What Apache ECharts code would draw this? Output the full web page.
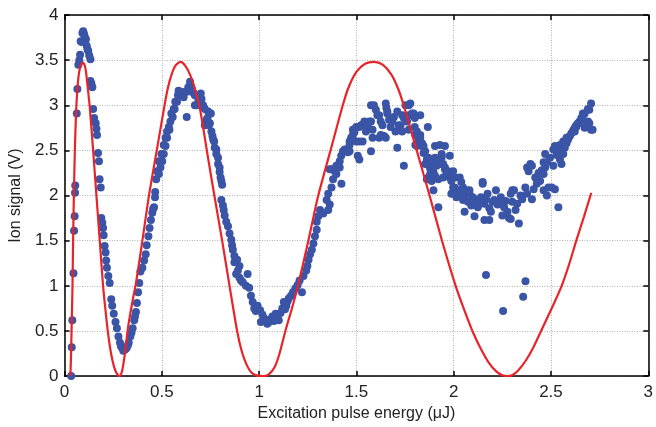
<!DOCTYPE html>
<html>
<head>
<meta charset="utf-8">
<script src="https://cdn.jsdelivr.net/npm/echarts@6/dist/echarts.min.js"></script>
<style>
  html, body { margin: 0; padding: 0; background: #fff; }
  #chart { width: 656px; height: 427px; }
</style>
</head>
<body>
<div id="chart"></div>
<script>
// measured ion signal (V) against pulse energy (uJ)
var measured = [
  [0.034,0.00],[0.037,0.32],[0.040,0.62],[0.046,1.14],[0.049,1.61],[0.052,1.77],[0.054,2.03],[0.055,2.11],
  [0.063,2.91],[0.066,3.18],[0.071,3.45],[0.076,3.50],[0.080,3.56],[0.083,3.71],[0.088,3.70],[0.092,3.80],
  [0.096,3.82],[0.100,3.79],[0.104,3.76],[0.110,3.73],[0.114,3.66],[0.118,3.62],[0.122,3.60],[0.127,3.55],
  [0.133,3.51],[0.133,3.27],[0.138,3.24],[0.143,3.20],[0.147,2.96],[0.152,2.86],[0.160,2.80],[0.164,2.74],
  [0.167,2.67],[0.172,2.47],[0.177,2.38],[0.180,2.18],[0.186,2.09],[0.189,1.75],[0.194,1.70],[0.198,1.64],
  [0.201,1.56],[0.206,1.44],[0.211,1.37],[0.214,1.28],[0.218,1.20],[0.225,1.11],[0.232,1.03],[0.240,0.85],
  [0.245,0.78],[0.253,0.69],[0.262,0.60],[0.269,0.53],[0.277,0.44],[0.285,0.37],[0.290,0.33],[0.296,0.31],
  [0.302,0.28],[0.307,0.29],[0.313,0.30],[0.319,0.31],[0.325,0.34],[0.330,0.37],[0.338,0.44],[0.344,0.48],
  [0.350,0.53],[0.358,0.62],[0.362,0.66],[0.367,0.71],[0.372,0.81],[0.378,0.93],[0.384,1.03],[0.390,1.16],
  [0.400,1.20],[0.409,1.28],[0.417,1.35],[0.422,1.45],[0.431,1.55],[0.437,1.64],[0.444,1.73],[0.451,1.81],
  [0.455,1.85],[0.460,1.87],[0.465,1.98],[0.466,2.04],[0.471,2.18],[0.476,2.27],[0.485,2.24],[0.485,2.38],
  [0.493,2.31],[0.498,2.46],[0.502,2.38],[0.510,2.46],[0.510,2.56],[0.519,2.55],[0.519,2.64],[0.527,2.64],
  [0.527,2.71],[0.536,2.76],[0.539,2.73],[0.544,2.82],[0.549,2.91],[0.556,2.87],[0.561,2.96],[0.566,2.96],
  [0.569,3.04],[0.578,3.04],[0.583,3.11],[0.586,3.16],[0.595,3.15],[0.604,3.12],[0.612,3.09],[0.620,3.15],
  [0.628,3.15],[0.628,2.87],[0.636,3.20],[0.645,3.26],[0.648,3.22],[0.654,3.18],[0.662,3.14],[0.670,3.11],
  [0.670,3.00],[0.679,3.00],[0.688,3.06],[0.696,3.11],[0.700,3.13],[0.704,3.07],[0.712,3.00],[0.721,2.96],
  [0.721,2.78],[0.730,2.84],[0.735,2.86],[0.738,2.93],[0.742,2.78],[0.747,2.80],[0.752,2.91],[0.755,2.71],
  [0.760,2.66],[0.764,2.62],[0.769,2.60],[0.772,2.53],[0.780,2.51],[0.780,2.46],[0.789,2.42],[0.789,2.35],
  [0.797,2.31],[0.797,2.26],[0.802,2.20],[0.806,2.16],[0.810,2.12],[0.806,1.95],[0.814,1.89],[0.818,1.84],
  [0.823,1.78],[0.831,1.71],[0.840,1.66],[0.848,1.58],[0.857,1.51],[0.861,1.45],[0.865,1.40],[0.873,1.33],
  [0.873,1.26],[0.887,1.29],[0.899,1.22],[0.882,1.13],[0.891,1.17],[0.899,1.09],[0.907,1.06],[0.916,1.04],
  [0.941,1.13],[0.932,1.00],[0.949,0.98],[0.958,0.89],[0.967,0.82],[0.975,0.75],[0.983,0.72],[0.992,0.78],
  [1.005,0.73],[1.017,0.68],[1.009,0.60],[1.025,0.64],[1.034,0.62],[1.042,0.58],[1.051,0.60],[1.060,0.63],
  [1.068,0.66],[1.076,0.61],[1.085,0.69],[1.093,0.66],[1.101,0.62],[1.110,0.70],[1.119,0.75],[1.127,0.82],
  [1.133,0.74],[1.140,0.78],[1.146,0.83],[1.152,0.86],[1.164,0.89],[1.174,0.93],[1.186,0.97],[1.198,1.01],
  [1.208,1.06],[1.220,0.93],[1.228,1.11],[1.242,1.17],[1.248,1.22],[1.254,1.29],[1.262,1.35],[1.271,1.40],
  [1.279,1.47],[1.287,1.55],[1.296,1.62],[1.296,1.71],[1.304,1.77],[1.313,1.84],[1.330,1.80],[1.347,1.95],
  [1.355,1.84],[1.363,1.90],[1.355,2.02],[1.372,2.09],[1.380,2.18],[1.363,2.29],[1.372,2.29],[1.389,2.27],
  [1.397,2.24],[1.397,2.33],[1.414,2.31],[1.414,2.38],[1.423,2.13],[1.422,2.44],[1.431,2.49],[1.440,2.51],
  [1.448,2.51],[1.456,2.48],[1.465,2.49],[1.465,2.56],[1.465,2.60],[1.473,2.64],[1.482,2.67],[1.482,2.73],
  [1.490,2.70],[1.499,2.76],[1.499,2.60],[1.507,2.44],[1.515,2.40],[1.515,2.60],[1.515,2.76],[1.524,2.78],
  [1.532,2.60],[1.541,2.80],[1.541,2.82],[1.549,2.71],[1.558,2.76],[1.566,2.82],[1.575,2.49],[1.575,2.82],
  [1.575,3.00],[1.583,2.64],[1.583,2.73],[1.590,3.00],[1.600,2.95],[1.608,2.89],[1.617,2.64],[1.617,2.89],
  [1.625,2.82],[1.625,2.67],[1.634,2.78],[1.642,2.66],[1.651,2.64],[1.651,3.02],[1.654,2.97],[1.659,2.91],
  [1.659,2.93],[1.668,2.84],[1.676,2.76],[1.685,2.82],[1.693,2.87],[1.701,2.71],[1.710,2.93],[1.710,2.53],
  [1.718,2.78],[1.727,2.78],[1.735,2.89],[1.735,2.71],[1.744,2.33],[1.744,2.86],[1.752,3.00],[1.760,2.82],
  [1.769,3.00],[1.769,2.89],[1.769,2.73],[1.777,3.02],[1.786,2.91],[1.794,2.91],[1.800,2.86],[1.800,2.76],
  [1.803,2.67],[1.803,2.56],[1.811,2.71],[1.811,2.55],[1.820,2.62],[1.828,2.89],[1.828,2.67],[1.828,2.64],
  [1.837,2.58],[1.837,2.55],[1.845,2.55],[1.845,2.47],[1.853,2.49],[1.853,2.35],[1.862,2.40],[1.862,2.18],
  [1.867,2.76],[1.870,2.42],[1.870,2.35],[1.870,2.20],[1.879,2.24],[1.879,2.30],[1.887,2.38],[1.887,2.16],
  [1.896,2.06],[1.896,2.26],[1.904,2.55],[1.904,2.42],[1.904,2.22],[1.912,2.33],[1.921,2.35],[1.921,2.18],
  [1.921,1.87],[1.929,2.35],[1.929,2.56],[1.938,2.44],[1.938,2.42],[1.938,2.46],[1.946,2.20],[1.946,2.35],
  [1.955,2.55],[1.955,2.31],[1.955,2.29],[1.963,2.26],[1.972,2.27],[1.972,2.26],[1.980,2.44],[1.980,2.20],
  [1.988,2.16],[1.988,2.02],[1.988,2.18],[1.997,2.27],[1.997,2.09],[2.005,2.20],[2.005,2.09],[2.014,1.98],
  [2.022,2.06],[2.031,2.20],[2.031,2.02],[2.039,2.15],[2.048,2.09],[2.048,1.95],[2.056,1.82],[2.056,2.00],
  [2.064,2.06],[2.073,1.93],[2.081,2.02],[2.081,2.06],[2.090,1.89],[2.098,1.98],[2.107,1.96],[2.107,1.77],
  [2.115,1.92],[2.124,1.87],[2.132,1.94],[2.140,1.98],[2.149,2.13],[2.149,2.15],[2.158,1.91],[2.158,1.73],
  [2.166,1.12],[2.166,1.96],[2.174,2.02],[2.183,1.86],[2.183,1.73],[2.191,1.82],[2.200,1.93],[2.208,1.95],
  [2.217,2.06],[2.225,1.90],[2.234,1.91],[2.242,1.98],[2.250,1.78],[2.254,0.72],[2.259,1.87],[2.267,1.94],
  [2.276,1.82],[2.284,1.75],[2.293,2.02],[2.293,1.74],[2.301,1.93],[2.301,2.06],[2.310,2.06],[2.318,1.84],
  [2.326,1.91],[2.335,1.69],[2.343,2.00],[2.352,1.96],[2.357,0.88],[2.368,2.09],[2.369,1.05],[2.377,2.02],
  [2.377,2.31],[2.385,2.27],[2.394,2.35],[2.402,1.96],[2.402,2.33],[2.411,2.07],[2.419,2.20],[2.427,2.13],
  [2.427,2.20],[2.436,2.25],[2.444,2.16],[2.453,2.28],[2.462,2.24],[2.462,2.06],[2.462,2.37],[2.470,2.31],
  [2.470,2.46],[2.479,2.00],[2.479,2.37],[2.487,2.09],[2.495,2.42],[2.504,2.09],[2.512,2.33],[2.512,2.51],
  [2.520,2.07],[2.520,2.53],[2.520,2.55],[2.529,2.45],[2.538,1.87],[2.538,2.49],[2.546,2.40],[2.546,2.56],
  [2.554,2.35],[2.563,2.46],[2.563,2.60],[2.571,2.53],[2.580,2.58],[2.580,2.64],[2.588,2.62],[2.597,2.66],
  [2.605,2.69],[2.614,2.72],[2.622,2.75],[2.622,2.71],[2.630,2.78],[2.630,2.76],[2.639,2.80],[2.644,2.80],
  [2.647,2.82],[2.656,2.86],[2.656,2.84],[2.664,2.84],[2.664,2.91],[2.673,2.91],[2.673,2.75],[2.681,2.76],
  [2.690,2.96],[2.690,2.82],[2.697,2.95],[2.697,2.80],[2.706,3.02],[2.706,2.73],[2.714,2.73]
];

// red curve
var fitted = [
  [0.030,0.00],[0.033,0.20],[0.036,0.50],[0.039,0.80],[0.041,1.00],[0.044,1.50],[0.048,2.00],[0.053,2.50],
  [0.059,2.90],[0.065,3.15],[0.072,3.32],[0.080,3.42],[0.088,3.46],[0.096,3.47],[0.104,3.44],[0.111,3.36],
  [0.118,3.22],[0.124,3.10],[0.130,2.97],[0.147,2.50],[0.164,2.00],[0.181,1.50],[0.198,1.00],[0.212,0.70],
  [0.225,0.45],[0.240,0.24],[0.255,0.10],[0.268,0.03],[0.282,0.00],
  [0.295,0.05],[0.305,0.17],[0.315,0.33],[0.325,0.52],[0.345,0.78],[0.367,1.03],[0.400,1.50],[0.434,2.00],
  [0.474,2.50],[0.510,2.95],[0.530,3.18],[0.550,3.34],[0.570,3.44],[0.595,3.48],[0.620,3.44],[0.645,3.34],
  [0.670,3.18],[0.695,2.97],[0.715,2.72],[0.735,2.45],[0.770,2.00],[0.810,1.50],[0.848,1.00],[0.887,0.50],
  [0.910,0.28],[0.935,0.13],[0.960,0.04],[0.990,0.005],[1.020,0.00],
  [1.050,0.02],[1.080,0.10],[1.105,0.25],[1.135,0.50],[1.170,0.76],[1.200,1.00],[1.253,1.50],[1.304,2.00],
  [1.367,2.50],[1.430,3.00],[1.460,3.20],[1.500,3.37],[1.545,3.46],[1.590,3.48],[1.635,3.45],[1.680,3.34],
  [1.715,3.18],[1.743,3.00],[1.810,2.50],[1.876,2.00],[1.940,1.50],[2.010,1.00],[2.060,0.70],[2.100,0.48],
  [2.140,0.30],[2.180,0.15],[2.220,0.05],[2.250,0.01],[2.276,0.00],
  [2.300,0.01],[2.330,0.06],[2.370,0.17],[2.410,0.32],[2.460,0.55],[2.510,0.78],[2.555,1.00],[2.595,1.25],
  [2.630,1.50],[2.670,1.77],[2.707,2.03]
];

var xTicks = [0, 0.5, 1, 1.5, 2, 2.5, 3];
var yTicks = [0, 0.5, 1, 1.5, 2, 2.5, 3, 3.5, 4];

var font = 'Liberation Sans, Arial, Helvetica, sans-serif';
var chart = echarts.init(document.getElementById('chart'));

var frameLine = { show: true, onZero: false, lineStyle: { color: '#000', width: 1.5 } };
var frameTick = { show: true, inside: true, length: 5, lineStyle: { color: '#000', width: 1.5 } };
var gridLine = { show: true, lineStyle: { color: '#b0b0b0', type: [1, 1.5], width: 1 } };

chart.setOption({
  animation: false,
  grid: { left: 61, right: 3, top: 15, bottom: 45 },
  xAxis: [{
    type: 'value', min: xTicks[0], max: xTicks[xTicks.length - 1], interval: 0.5,
    name: 'Excitation pulse energy (μJ)', nameLocation: 'middle', nameGap: 29,
    nameTextStyle: { fontFamily: font, fontSize: 16, color: '#222' },
    axisLine: frameLine, axisTick: frameTick,
    axisLabel: { fontFamily: font, fontSize: 17, color: '#222', margin: 8 },
    splitLine: gridLine
  }, {
    type: 'value', position: 'top', min: xTicks[0], max: xTicks[xTicks.length - 1], interval: 0.5,
    axisLine: frameLine, axisTick: frameTick,
    axisLabel: { show: false }, splitLine: { show: false }
  }],
  yAxis: [{
    type: 'value', min: yTicks[0], max: yTicks[yTicks.length - 1], interval: 0.5,
    name: 'Ion signal (V)', nameLocation: 'middle', nameGap: 29,
    nameTextStyle: { fontFamily: font, fontSize: 16, color: '#222' },
    axisLine: frameLine, axisTick: frameTick,
    axisLabel: { fontFamily: font, fontSize: 17, color: '#222', margin: 6 },
    splitLine: gridLine
  }, {
    type: 'value', position: 'right', min: yTicks[0], max: yTicks[yTicks.length - 1], interval: 0.5,
    axisLine: frameLine, axisTick: frameTick,
    axisLabel: { show: false }, splitLine: { show: false }
  }],
  series: [{
    type: 'scatter',
    data: measured,
    symbolSize: 8,
    itemStyle: { color: '#3a54a6', opacity: 1 }
  }, {
    type: 'line',
    data: fitted,
    smooth: 0.25,
    symbol: 'none',
    clip: true,
    lineStyle: { color: '#e8232a', width: 2.2 }
  }]
});
</script>
</body>
</html>
